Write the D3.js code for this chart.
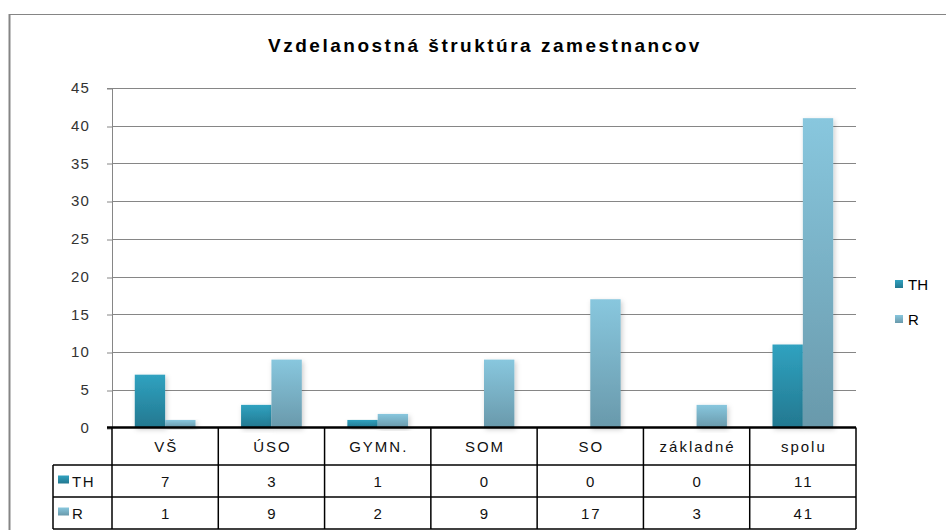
<!DOCTYPE html>
<html>
<head>
<meta charset="utf-8">
<script src="https://cdn.jsdelivr.net/npm/d3@7"></script>
<style>
  html, body { margin: 0; padding: 0; background: #fff; }
  svg { display: block; }
  text { font-family: "Liberation Sans", Arial, sans-serif; }
</style>
</head>
<body>
<script>
// ---- data ----
const categories = ["VŠ", "ÚSO", "GYMN.", "SOM", "SO", "základné", "spolu"];
const seriesNames = ["TH", "R"];
const thValues = [7, 3, 1, 0, 0, 0, 11];
const rValues = [1, 9, 1.8, 9, 17, 3, 41];
const yTicks = [0, 5, 10, 15, 20, 25, 30, 35, 40, 45];
const chartTitle = "Vzdelanostná štruktúra zamestnancov";

const W = 946, H = 530;
const plot = { left: 112, right: 856, top: 88, bottom: 427.5 };
const tableRows = [427.5, 465, 497, 529];
const tableLeft = 53;

const svg = d3.select("body").append("svg").attr("width", W).attr("height", H);
const defs = svg.append("defs");

function grad(id, top, bottom) {
  const g = defs.append("linearGradient").attr("id", id)
    .attr("x1", 0).attr("y1", 0).attr("x2", 0).attr("y2", 1);
  g.append("stop").attr("offset", "0%").attr("stop-color", top);
  g.append("stop").attr("offset", "100%").attr("stop-color", bottom);
}
grad("gTH", "#30a2c0", "#237890");
grad("gR", "#88c7de", "#6999ab");

const f = defs.append("filter").attr("id", "shadow")
  .attr("x", "-30%").attr("y", "-10%").attr("width", "160%").attr("height", "130%");
f.append("feDropShadow").attr("dx", 1.5).attr("dy", 2).attr("stdDeviation", 2.5)
  .attr("flood-color", "#000").attr("flood-opacity", 0.2);

// frame
svg.append("line").attr("x1", 9.5).attr("x2", 9.5).attr("y1", 14).attr("y2", H)
  .attr("stroke", "#858585").attr("stroke-width", 2);
svg.append("line").attr("x1", 9).attr("x2", W).attr("y1", 14.5).attr("y2", 14.5)
  .attr("stroke", "#858585").attr("stroke-width", 1);

// title
svg.append("text").attr("x", 485).attr("y", 52)
  .attr("text-anchor", "middle").attr("font-size", 19).attr("font-weight", "bold")
  .attr("letter-spacing", 2.5).attr("fill", "#000").text(chartTitle);

// scales
const x = d3.scaleBand().domain(categories).range([plot.left, plot.right]).paddingInner(0).paddingOuter(0);
const bw = x.bandwidth() / 3.5;
const xs = d3.scaleBand().domain(seriesNames).range([0, bw * 2]);
const y = d3.scaleLinear().domain([0, 45]).range([plot.bottom, plot.top]);

// axis + grid
const yAxis = d3.axisLeft(y).tickValues(yTicks).tickSize(5).tickPadding(17);
const ga = svg.append("g").attr("transform", `translate(${plot.left},0)`).call(yAxis);
ga.select(".domain").attr("stroke", "#868686");
ga.selectAll(".tick line").attr("stroke", "#868686");
ga.selectAll(".tick text").attr("font-size", 15).attr("fill", "#333").attr("letter-spacing", 1.2);
svg.append("g").selectAll("line").data(yTicks.filter(d => d > 0)).join("line")
  .attr("x1", plot.left).attr("x2", plot.right)
  .attr("y1", d => Math.round(y(d)) + 0.5).attr("y2", d => Math.round(y(d)) + 0.5)
  .attr("stroke", "#868686").attr("stroke-width", 1.2);
ga.selectAll(".tick line").attr("transform", d => `translate(0,${Math.round(y(d)) + 0.5 - y(d)})`);

// bars
const data = categories.map((c, i) => ({ c, vals: [
  { s: "TH", v: thValues[i] }, { s: "R", v: rValues[i] }] }));
const groups = svg.append("g").selectAll("g").data(data).join("g")
  .attr("transform", d => `translate(${x(d.c) + (x.bandwidth() - 2 * bw) / 2},0)`);
groups.selectAll("rect").data(d => d.vals.filter(v => v.v > 0)).join("rect")
  .attr("x", d => xs(d.s)).attr("width", xs.bandwidth())
  .attr("y", d => y(d.v)).attr("height", d => y(0) - y(d.v))
  .attr("fill", d => `url(#g${d.s})`).attr("filter", "url(#shadow)");

// table
const tg = svg.append("g").attr("stroke", "#000").attr("stroke-width", 1.5);
svg.append("line").attr("x1", plot.left - 5).attr("x2", plot.right).attr("y1", plot.bottom).attr("y2", plot.bottom)
  .attr("stroke", "#000").attr("stroke-width", 2.5);
tableRows.slice(1).forEach(ry => {
  tg.append("line").attr("x1", tableLeft).attr("x2", plot.right).attr("y1", ry).attr("y2", ry);
});
tg.append("line").attr("x1", tableLeft).attr("x2", tableLeft).attr("y1", tableRows[1]).attr("y2", tableRows[3]);
const bounds = categories.map(c => x(c)).concat([plot.right]);
tg.selectAll(".v").data(bounds).join("line")
  .attr("x1", d => d).attr("x2", d => d).attr("y1", tableRows[0]).attr("y2", tableRows[3]);

const txt = svg.append("g").attr("font-size", 15).attr("fill", "#111").attr("letter-spacing", 2);
txt.selectAll(".h").data(categories).join("text")
  .attr("x", d => x(d) + x.bandwidth() / 2 + 1).attr("y", 452)
  .attr("text-anchor", "middle").text(d => d);
const fmt = d3.format(".0f");
[thValues, rValues].forEach((vals, si) => {
  const ry = (tableRows[si + 1] + tableRows[si + 2]) / 2 + 5.5;
  txt.append("g").selectAll("text").data(vals).join("text")
    .attr("x", (d, i) => x(categories[i]) + x.bandwidth() / 2 + 1).attr("y", ry)
    .attr("text-anchor", "middle").text(d => fmt(d));
  const kg = svg.append("g");
  kg.append("rect").attr("x", 58).attr("y", ry - 11).attr("width", 11).attr("height", 8)
    .attr("fill", `url(#g${seriesNames[si]})`);
  kg.append("text").attr("x", 72).attr("y", ry).attr("font-size", 15).attr("fill", "#111")
    .attr("letter-spacing", 1.5).text(seriesNames[si]);
});

// legend
const lg = svg.append("g");
seriesNames.forEach((s, i) => {
  const ly = 290 + i * 35;
  lg.append("rect").attr("x", 895).attr("y", ly - 10).attr("width", 8).attr("height", 8)
    .attr("fill", `url(#g${s})`);
  lg.append("text").attr("x", 908).attr("y", ly).attr("font-size", 15).attr("fill", "#000").text(s);
});
</script>
</body>
</html>
